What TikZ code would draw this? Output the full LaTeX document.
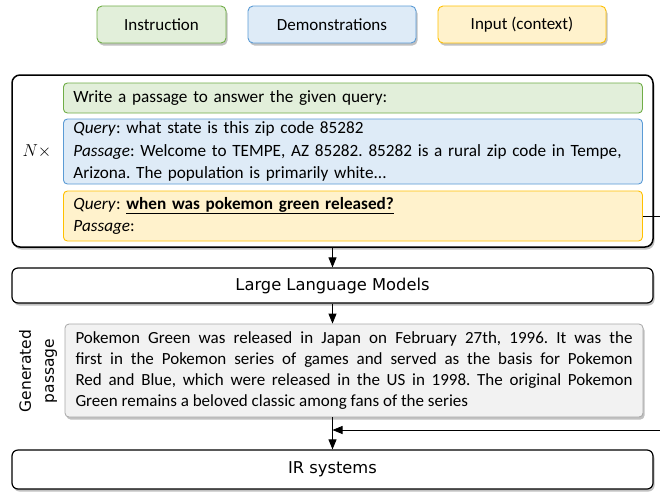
\documentclass[tikz,border=0pt]{standalone}
\usepackage{fontspec}
\setmainfont{Carlito}
\newfontfamily\comicfont{DejaVu Sans}
\usetikzlibrary{shadows,arrows.meta,calc}
\frenchspacing
\definecolor{gfill}{HTML}{E2EFDA}
\definecolor{gdraw}{HTML}{70AD47}
\definecolor{bfill}{HTML}{DEEBF7}
\definecolor{bdraw}{HTML}{5B9BD5}
\definecolor{yfill}{HTML}{FFF2CC}
\definecolor{ydraw}{HTML}{FFC000}
\definecolor{pfill}{HTML}{F2F2F2}
\definecolor{pdraw}{HTML}{A6A6A6}
\tikzset{
  shad/.style={drop shadow={shadow xshift=1.5pt,shadow yshift=-2.5pt,opacity=0.35,fill=black!70}},
  legendbox/.style={shad,rounded corners=5pt,line width=0.9pt,minimum height=37pt,inner sep=0pt,font=\fontsize{17}{20}\selectfont},
  innerbox/.style={rounded corners=4pt,line width=0.9pt,inner xsep=10pt,inner ysep=0pt,text width=559pt,align=left,font=\fontsize{17.2}{22.5}\selectfont,anchor=west},
  flowbox/.style={shad,draw=black,fill=white,rounded corners=6pt,line width=1.2pt,minimum width=641pt,inner sep=0pt,font=\comicfont\fontsize{16.3}{19}\selectfont},
  arr/.style={line width=0.8pt,-{Triangle[length=10pt,width=8pt]}},
  plain/.style={line width=0.8pt}
}
\begin{document}
\begin{tikzpicture}[x=1pt,y=-1pt]
\useasboundingbox (0,0) rectangle (660,491);
% legend
\node[legendbox,draw=gdraw,fill=gfill,minimum width=129pt] (lg) at (161.5,24.5) {Instruction};
\node[legendbox,draw=bdraw,fill=bfill,minimum width=168pt] (lb) at (332,24.5) {Demonstrations};
\node[legendbox,draw=ydraw,fill=yfill,minimum width=168pt] (ly) at (522,24.5) {Input (context)};
% main box
\node[shad,draw=black,fill=white,rounded corners=8pt,line width=1.5pt,minimum width=641pt,minimum height=172pt,inner sep=0pt] (main) at (332.5,161) {};
\node[innerbox,draw=gdraw,fill=gfill,minimum height=30pt] (ins) at (63,98) {Write a passage to answer the given query:};
\node[innerbox,draw=bdraw,fill=bfill,minimum height=65pt] (demo) at (63,151.5) {\textit{Query}: what state is this zip code 85282\\\textit{Passage}: Welcome to TEMPE, AZ 85282. 85282 is a rural zip code in Tempe,\\Arizona. The population is primarily white...};
\node[innerbox,draw=ydraw,fill=yfill,minimum height=50pt] (inp) at (63,216) {\textit{Query}: \underline{\textbf{when was pokemon green released?}}\\\textit{Passage}:};
\node[font=\fontsize{17}{20}\selectfont] (nx) at (37,151) {$N\times$};
% LLM
\node[flowbox,minimum height=35pt] (llm) at (332.5,285.5) {Large Language Models};
% generated passage
\node[shad,draw=pdraw,fill=pfill,rounded corners=4pt,line width=0.8pt,minimum width=578pt,minimum height=93pt,inner xsep=10pt,inner ysep=0pt,text width=557pt,align=justify,font=\fontsize{17}{21}\selectfont] (gen) at (354,370.5) {Pokemon Green was released in Japan on February 27th, 1996. It was the\linebreak first in the Pokemon series of games and served as the basis for Pokemon\linebreak Red and Blue, which were released in the US in 1998. The original Pokemon\linebreak Green remains a beloved classic among fans of the series};
\node[rotate=90,align=center,font=\comicfont\fontsize{15.5}{23}\selectfont] (genlab) at (38,371) {Generated\\passage};
% IR
\node[flowbox,minimum height=39pt] (ir) at (332.5,469.5) {IR systems};
% connectors
\coordinate (r1) at (660,216);
\coordinate (r2) at (660,430);
\draw[arr] (main.south) -- (llm.north);
\draw[arr] (llm.south) -- (llm.south |- gen.north);
\draw[arr] (llm.south |- gen.south) -- (llm.south |- ir.north);
\draw[plain] (inp.east) -- (r1);
\draw[arr] (r2) -- (r2 -| llm.south);
\end{tikzpicture}
\end{document}
